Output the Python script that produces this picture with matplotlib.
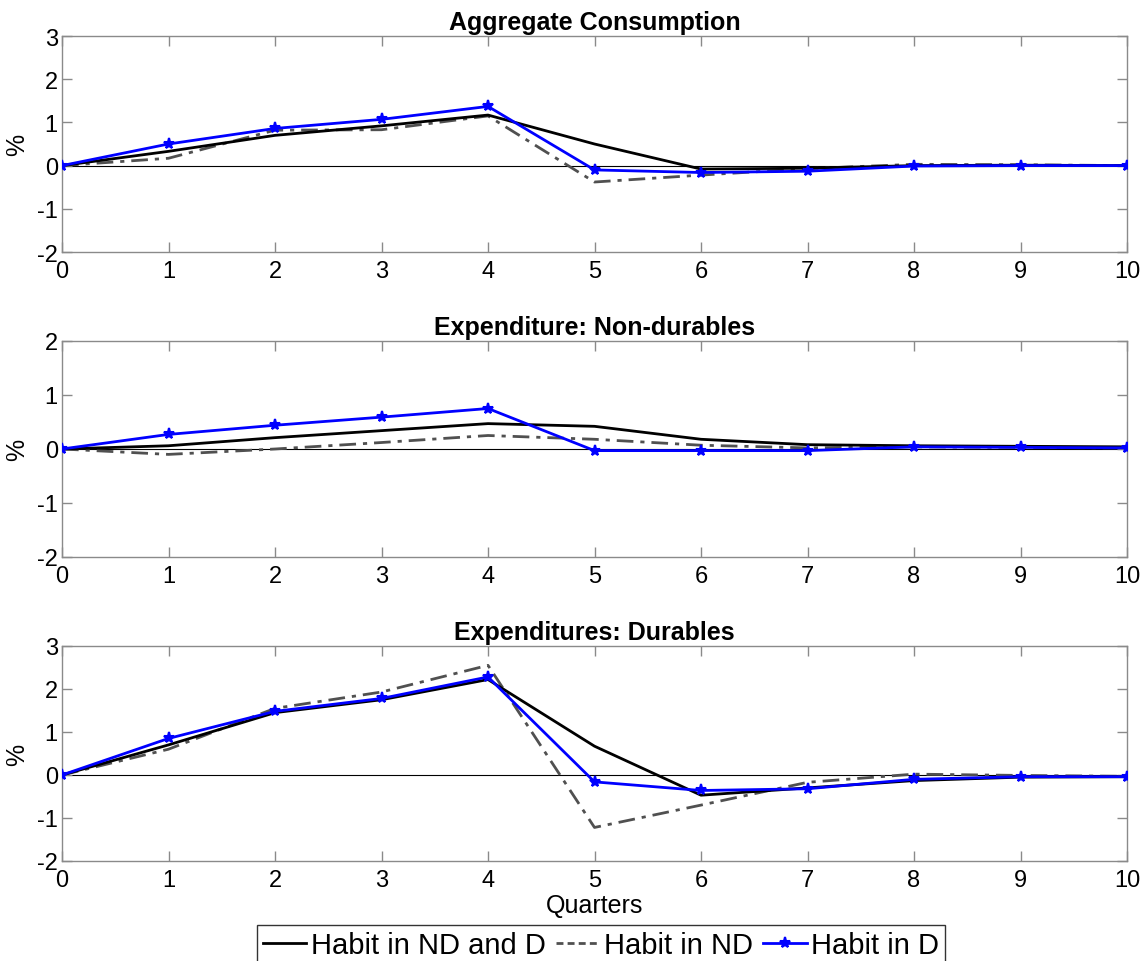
import matplotlib
matplotlib.use("Agg")
import matplotlib.pyplot as plt
from matplotlib.lines import Line2D

plt.rcParams['font.family'] = ['Liberation Sans', 'DejaVu Sans']
plt.rcParams['axes.unicode_minus'] = False

quarters = list(range(11))

titles = ["Aggregate Consumption", "Expenditure: Non-durables", "Expenditures: Durables"]
ylims = [(-2, 3), (-2, 2), (-2, 3)]

# Habit in ND and D
both_agg = [0, 0.33, 0.70, 0.92, 1.17, 0.50, -0.08, -0.06, 0.00, 0.01, 0.00]
both_nd = [0, 0.06, 0.21, 0.34, 0.47, 0.42, 0.18, 0.08, 0.06, 0.05, 0.04]
both_d = [0, 0.70, 1.45, 1.75, 2.22, 0.67, -0.47, -0.30, -0.13, -0.05, -0.04]

# Habit in ND
nd_agg = [0, 0.17, 0.82, 0.83, 1.15, -0.38, -0.22, -0.07, 0.03, 0.02, 0.00]
nd_nd = [0, -0.10, 0.00, 0.12, 0.25, 0.18, 0.07, 0.02, 0.04, 0.03, 0.02]
nd_d = [0, 0.60, 1.55, 1.93, 2.55, -1.22, -0.70, -0.17, 0.02, -0.01, -0.03]

# Habit in D
d_agg = [0, 0.50, 0.86, 1.07, 1.37, -0.10, -0.16, -0.13, -0.01, 0.00, 0.00]
d_nd = [0, 0.27, 0.44, 0.59, 0.75, -0.03, -0.03, -0.03, 0.04, 0.03, 0.02]
d_d = [0, 0.85, 1.48, 1.78, 2.28, -0.16, -0.36, -0.32, -0.10, -0.04, -0.04]

series_both = [both_agg, both_nd, both_d]
series_nd = [nd_agg, nd_nd, nd_d]
series_d = [d_agg, d_nd, d_d]

labels = ["Habit in ND and D", "Habit in ND", "Habit in D"]

fig = plt.figure(figsize=(11.44, 9.62), dpi=100)
left, right = 62 / 1144, 1127 / 1144
panels = [(37, 253), (342, 558), (647, 862)]

frame_col = "#8a8a8a"
dashdot = (0, (6, 2.5, 1.5, 2.5))
for i, (top_px, bot_px) in enumerate(panels):
    b = 1 - bot_px / 962
    h = (bot_px - top_px) / 962
    ax = fig.add_axes([left, b, right - left, h])
    ax.axhline(0, color="black", lw=0.8, zorder=1)
    ax.plot(quarters, series_both[i], color="black", lw=2.0, zorder=3)
    ax.plot(quarters, series_nd[i], color="#505050", lw=2.0, ls=dashdot, zorder=2)
    ax.plot(quarters, series_d[i], color="#0000ff", lw=2.0, marker="*", ms=8,
            mew=1.5, zorder=4)
    ax.set_xlim(0, 10)
    ax.set_ylim(*ylims[i])
    ax.set_xticks(quarters)
    ax.set_yticks(range(ylims[i][0], ylims[i][1] + 1))
    ax.tick_params(direction="in", top=True, right=True, length=7, width=1,
                   color=frame_col, labelsize=17)
    ax.tick_params(axis="x", pad=6)
    ax.tick_params(axis="y", pad=3)
    for sp in ax.spines.values():
        sp.set_color(frame_col)
        sp.set_linewidth(1.0)
    ax.set_title(titles[i], fontsize=18, fontweight="bold", pad=5)
    ax.set_ylabel("%", fontsize=18)
    ax.yaxis.set_label_coords(-0.031, 0.5)
    if i == 2:
        ax.set_xlabel("Quarters", fontsize=18, labelpad=1)

handles = [
    Line2D([], [], color="black", lw=2.0),
    Line2D([], [], color="#505050", lw=2.0, ls=(0, (2.5, 1.5))),
    Line2D([], [], color="#0000ff", lw=2.0, marker="*", ms=8, mew=1.5),
]
leg = fig.legend(handles, labels, loc="center", bbox_to_anchor=(601 / 1144, 1 - 946 / 962),
                 ncol=3, fontsize=21, frameon=True, fancybox=False, handlelength=1.5,
                 handletextpad=0.15, columnspacing=0.35, borderpad=0.2, borderaxespad=0)
leg.get_frame().set_edgecolor("black")
leg.get_frame().set_linewidth(1.0)

fig.savefig("out.png", dpi=100)
